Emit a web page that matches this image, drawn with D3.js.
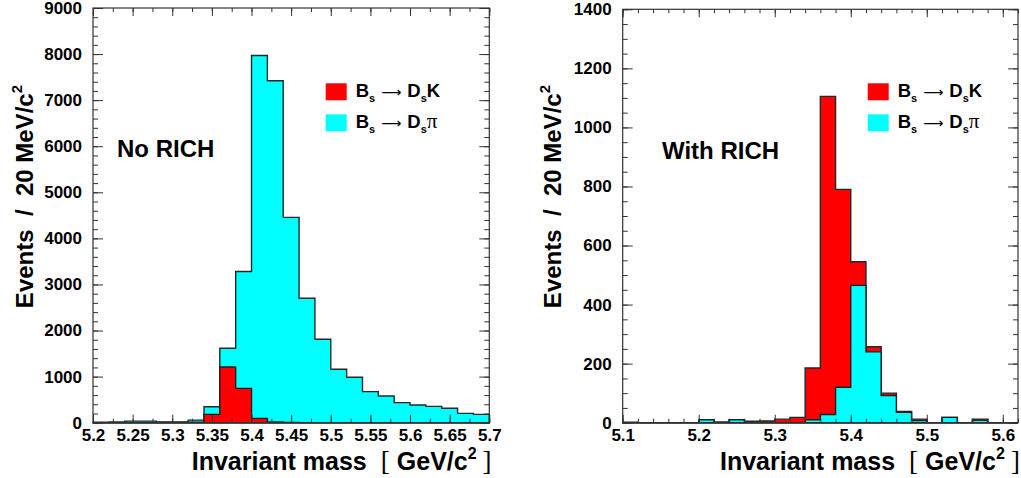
<!DOCTYPE html>
<html>
<head>
<meta charset="utf-8">
<script src="https://cdn.jsdelivr.net/npm/d3@7"></script>
<style>
  html, body { margin: 0; padding: 0; background: #fff; }
  svg { display: block; font-family: "Liberation Sans", Arial, Helvetica, sans-serif; }
  .tick text { font-family: "Liberation Sans", Arial, sans-serif; font-weight: bold; font-size: 17px; fill: #000; }
  .tick line { stroke: #333; stroke-width: 1; }
</style>
</head>
<body>
<script>
// ---------- DATA ----------
const binWidth = 0.02;

// Left panel: "No RICH"  (bins 5.20 .. 5.70)
const leftBinStart = 5.2;
const leftDsPi = [10, 15, 35, 35, 15, 15, 55, 345, 1616, 3283, 7970, 7420, 4457, 2700, 1812, 1160, 985, 675, 580, 435, 384, 355, 312, 203, 181];
const leftDsK  = [0, 0, 0, 0, 5, 8, 10, 180, 1210, 746, 94, 15, 5, 0, 0, 0, 0, 0, 0, 0, 0, 0, 0, 0, 0];
const leftXTicks = [5.2, 5.25, 5.3, 5.35, 5.4, 5.45, 5.5, 5.55, 5.6, 5.65, 5.7];
const leftYTicks = [0, 1000, 2000, 3000, 4000, 5000, 6000, 7000, 8000, 9000];

// Right panel: "With RICH" (bins 5.10 .. 5.62)
const rightBinStart = 5.1;
const rightDsK  = [2, 0, 0, 0, 0, 10, 2, 10, 5, 6, 12, 18, 185, 1105, 790, 545, 257, 100, 38, 12, 0, 18, 0, 12, 0, 0];
const rightDsPi = [0, 0, 0, 0, 0, 10, 2, 10, 0, 0, 0, 0, 10, 28, 120, 465, 240, 92, 35, 7, 0, 18, 0, 8, 0, 0];
const rightXTicks = [5.1, 5.2, 5.3, 5.4, 5.5, 5.6];
const rightYTicks = [0, 200, 400, 600, 800, 1000, 1200, 1400];

const RED = "#ff0000", CYAN = "#00ffff";

// ---------- DRAW ----------
const svg = d3.select("body").append("svg").attr("width", 1021).attr("height", 478);

function panel(cfg) {
  const x = d3.scaleLinear().domain(cfg.xDomain).range([cfg.left, cfg.right]);
  const y = d3.scaleLinear().domain(cfg.yDomain).range([cfg.bottom, cfg.top]);
  const g = svg.append("g");

  const area = d3.area()
    .x(d => x(d.x)).y0(y(0)).y1(d => y(d.v))
    .curve(d3.curveStepAfter);
  function pts(vals) {
    const p = vals.map((v, i) => ({ x: cfg.binStart + i * binWidth, v }));
    p.push({ x: cfg.binStart + vals.length * binWidth, v: vals[vals.length - 1] });
    return p;
  }
  g.append("path").datum(pts(cfg.backVals)).attr("d", area)
    .attr("fill", cfg.backColor).attr("stroke", "#1e2a2a").attr("stroke-width", 1.4);
  g.append("path").datum(pts(cfg.frontVals)).attr("d", area)
    .attr("fill", cfg.frontColor).attr("stroke", "#1e1e1e").attr("stroke-width", 1.4);

  const fmt = d => String(+d.toFixed(3));
  // bottom axis
  g.append("g").attr("transform", `translate(0,${cfg.bottom})`)
    .call(d3.axisBottom(x).tickValues(cfg.xMinor).tickSize(-4).tickFormat(""))
    .call(s => s.select(".domain").remove());
  g.append("g").attr("transform", `translate(0,${cfg.bottom})`)
    .call(d3.axisBottom(x).tickValues(cfg.xTicks).tickSize(-8).tickPadding(6.5).tickFormat(fmt))
    .call(s => s.select(".domain").remove());
  // top axis
  g.append("g").attr("transform", `translate(0,${cfg.top})`)
    .call(d3.axisTop(x).tickValues(cfg.xMinor).tickSize(-4).tickFormat(""))
    .call(s => s.select(".domain").remove());
  g.append("g").attr("transform", `translate(0,${cfg.top})`)
    .call(d3.axisTop(x).tickValues(cfg.xTicks).tickSize(-8).tickFormat(""))
    .call(s => s.select(".domain").remove());
  // left axis
  g.append("g").attr("transform", `translate(${cfg.left},0)`)
    .call(d3.axisLeft(y).tickValues(cfg.yMinor).tickSize(-5).tickFormat(""))
    .call(s => s.select(".domain").remove());
  g.append("g").attr("transform", `translate(${cfg.left},0)`)
    .call(d3.axisLeft(y).tickValues(cfg.yTicks).tickSize(-10).tickPadding(11).tickFormat(fmt))
    .call(s => s.select(".domain").remove());
  // right axis
  g.append("g").attr("transform", `translate(${cfg.right},0)`)
    .call(d3.axisRight(y).tickValues(cfg.yMinor).tickSize(-5).tickFormat(""))
    .call(s => s.select(".domain").remove());
  g.append("g").attr("transform", `translate(${cfg.right},0)`)
    .call(d3.axisRight(y).tickValues(cfg.yTicks).tickSize(-10).tickFormat(""))
    .call(s => s.select(".domain").remove());

  // frame
  g.append("rect").attr("x", cfg.left).attr("y", cfg.top)
    .attr("width", cfg.right - cfg.left).attr("height", cfg.bottom - cfg.top)
    .attr("fill", "none").attr("stroke", "#333").attr("stroke-width", 1.2);

  // panel label
  g.append("text").attr("x", cfg.labelX).attr("y", cfg.labelY)
    .attr("font-size", 24).attr("font-weight", "bold").text(cfg.label);

  // legend
  const entries = [
    { color: RED, tail: "K", tailSerif: false },
    { color: CYAN, tail: "\u03C0", tailSerif: true }
  ];
  entries.forEach((e, i) => {
    const yy = cfg.legY + i * 31;
    g.append("rect").attr("x", cfg.legX).attr("y", yy - 14).attr("width", 21).attr("height", 17)
      .attr("fill", e.color);
    const t = g.append("text").attr("x", cfg.legX + 30).attr("y", yy)
      .attr("font-size", 18.5).attr("font-weight", "bold");
    t.append("tspan").text("B");
    t.append("tspan").attr("font-size", 11).attr("dy", 5).text("s");
    t.append("tspan").attr("dy", -5).attr("dx", 6).attr("font-family", "DejaVu Sans, sans-serif")
      .attr("font-weight", "normal").attr("font-size", 14).text("\u27F6");
    t.append("tspan").attr("dx", 6).text("D");
    t.append("tspan").attr("font-size", 11).attr("dy", 5).text("s");
    const tl = t.append("tspan").attr("dy", -5).text(e.tail);
    if (e.tailSerif) tl.attr("font-family", "Liberation Serif, serif").attr("font-weight", "normal").attr("font-size", 21);
  });

  // y title
  const yt = svg.append("text")
    .attr("transform", `translate(${cfg.yTitleX},85) rotate(-90)`)
    .attr("text-anchor", "end").attr("font-size", 24).attr("font-weight", "bold");
  yt.append("tspan").text("Events\u00A0\u00A0/\u00A0\u00A020 MeV/c");
  yt.append("tspan").attr("font-size", 15).attr("dy", -11).text("2");

  // x title
  const xt = svg.append("text").attr("x", cfg.xTitleX).attr("y", 470)
    .attr("font-size", 25).attr("font-weight", "bold");
  xt.append("tspan").text("Invariant mass");
  xt.append("tspan").attr("dx", 14).attr("font-family", "Liberation Serif, serif")
    .attr("font-weight", "normal").attr("font-size", 27).text("[");
  xt.append("tspan").attr("dx", 7).text("GeV/c");
  xt.append("tspan").attr("font-size", 16).attr("dy", -11).text("2");
  xt.append("tspan").attr("dy", 11).attr("dx", 6).attr("font-family", "Liberation Serif, serif")
    .attr("font-weight", "normal").attr("font-size", 27).text("]");
}

const range = (a, b, s) => d3.range(Math.round((b - a) / s) + 1).map(i => +(a + i * s).toFixed(4));

panel({
  left: 93, right: 489.3, top: 8, bottom: 422.7,
  xDomain: [5.2, 5.7], yDomain: [0, 9000],
  binStart: leftBinStart,
  backVals: leftDsPi, backColor: CYAN,
  frontVals: leftDsK, frontColor: RED,
  xTicks: leftXTicks, xMinor: range(5.2, 5.7, 0.025),
  yTicks: leftYTicks, yMinor: range(0, 9000, 200),
  label: "No RICH", labelX: 117, labelY: 157,
  legX: 325.7, legY: 97.3,
  yTitleX: 32.5, xTitleX: 191.7
});

panel({
  left: 622.7, right: 1018, top: 9.3, bottom: 422.7,
  xDomain: [5.1, 5.62], yDomain: [0, 1400],
  binStart: rightBinStart,
  backVals: rightDsK, backColor: RED,
  frontVals: rightDsPi, frontColor: CYAN,
  xTicks: rightXTicks, xMinor: range(5.1, 5.62, 0.02),
  yTicks: rightYTicks, yMinor: range(0, 1400, 50),
  label: "With RICH", labelX: 662, labelY: 159,
  legX: 867.7, legY: 97.3,
  yTitleX: 561, xTitleX: 720
});
</script>
</body>
</html>
